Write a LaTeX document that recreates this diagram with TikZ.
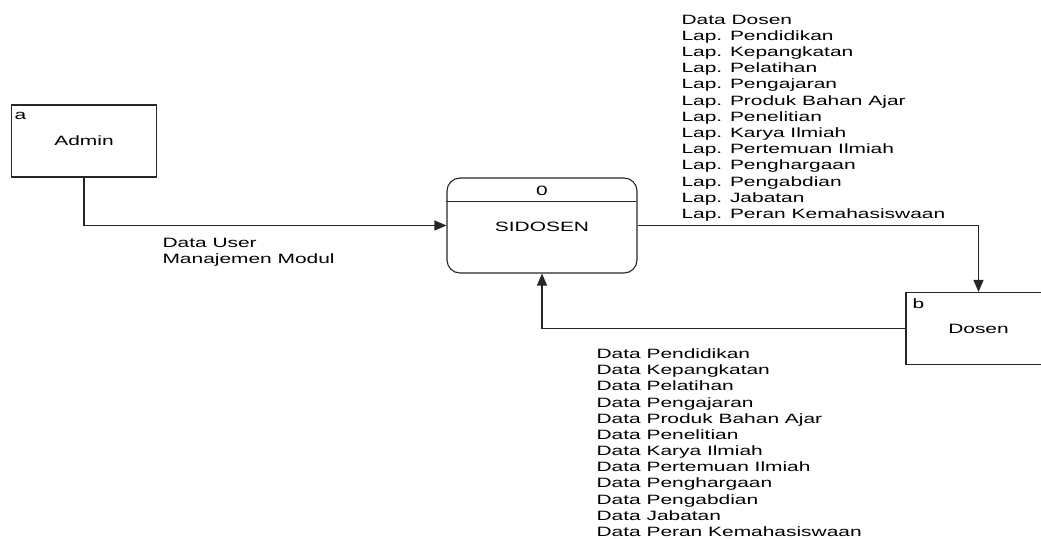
\documentclass[tikz,border=0pt]{standalone}
\usepackage{fontspec}
\setmainfont{Liberation Sans}[FakeStretch=1.55]
\usetikzlibrary{arrows.meta}
\tikzstyle{entity}=[rectangle,draw,minimum width=145pt,minimum height=72pt,inner sep=0pt]
\tikzstyle{process}=[rectangle,draw,rounded corners=13pt,minimum width=190pt,minimum height=95pt,inner sep=0pt]
\tikzstyle{tag}=[anchor=base west,inner sep=0pt]
\tikzstyle{flowtext}=[anchor=base west,inner sep=0pt]
\tikzstyle{flow}=[draw,-{Triangle[length=12pt,width=10pt]}]

\begin{document}
\begin{tikzpicture}[x=1pt,y=-1pt,line width=1.1pt,color=black!85,
    every node/.style={font=\fontsize{13.5}{16.17}\selectfont,text=black}]
    \useasboundingbox (0,0) rectangle (1041,538);
    % external entities and the process
    \node[entity] (admin) at (84,141) {Admin};
    \node[tag] (atag) at (14,119) {a};
    \node[entity] (dosen) at (978.5,328.5) {Dosen};
    \node[tag] (btag) at (912,308) {b};
    \node[process] (sidosen) at (542,225.5) {};
    \node (pid) at (542,191) {0};
    \node (pname) at (542,227) {SIDOSEN};
    \draw (sidosen.north west) ++(0,24) -- ++(190,0);

    % data flows
    \path[flow] (admin.south) |- (sidosen.west);
    \path[flow] (sidosen.east) -| (dosen.north);
    \path[flow] (dosen.west) -| (sidosen.south);

    \foreach \txt [count=\i] in {Data User, Manajemen Modul}
        \node[flowtext] (in\i) at (162,{247.5+16.17*(\i-1)}) {\txt};
    \foreach \txt [count=\i] in {Data Dosen, Lap. Pendidikan, Lap. Kepangkatan, Lap. Pelatihan,
        Lap. Pengajaran, Lap. Produk Bahan Ajar, Lap. Penelitian, Lap. Karya Ilmiah,
        Lap. Pertemuan Ilmiah, Lap. Penghargaan, Lap. Pengabdian, Lap. Jabatan,
        Lap. Peran Kemahasiswaan}
        \node[flowtext] (lap\i) at (681,{24.3+16.17*(\i-1)}) {\txt};
    \foreach \txt [count=\i] in {Data Pendidikan, Data Kepangkatan, Data Pelatihan,
        Data Pengajaran, Data Produk Bahan Ajar, Data Penelitian, Data Karya Ilmiah,
        Data Pertemuan Ilmiah, Data Penghargaan, Data Pengabdian, Data Jabatan,
        Data Peran Kemahasiswaan}
        \node[flowtext] (data\i) at (596,{358.5+16.17*(\i-1)}) {\txt};
\end{tikzpicture}
\end{document}
